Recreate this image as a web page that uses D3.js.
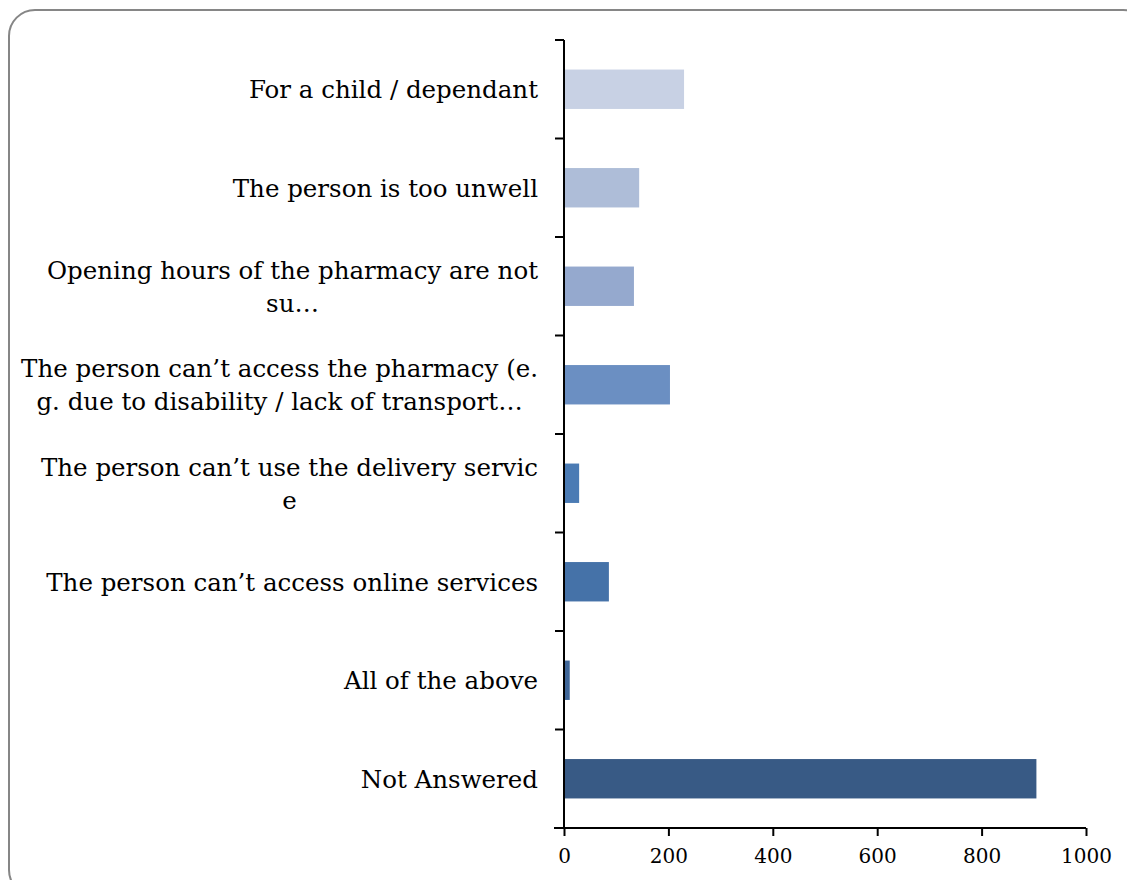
<!DOCTYPE html>
<html>
<head>
<meta charset="utf-8">
<script src="https://cdn.jsdelivr.net/npm/d3@7"></script>
<style>
  html, body { margin: 0; padding: 0; background: #ffffff; overflow: hidden; }
  svg { display: block; }
</style>
</head>
<body>
<svg id="chart" width="1127" height="880"></svg>
<script>
// Reasons a prescription is collected on someone else's behalf (counts of responses)
const categories = [
  ["For a child / dependant"],
  ["The person is too unwell"],
  ["Opening hours of the pharmacy are not", "su\u2026"],
  ["The person can\u2019t access the pharmacy (e.", "g. due to disability / lack of transport\u2026"],
  ["The person can\u2019t use the delivery servic", "e"],
  ["The person can\u2019t access online services"],
  ["All of the above"],
  ["Not Answered"]
];
const values = [230, 144, 134, 203, 29, 86, 11, 905];
const barColors = ["#c8d1e4", "#aebdd8", "#95a9ce", "#6b8fc2", "#4b7bb4", "#4572a8", "#3f6698", "#385a85"];
const xTicks = [0, 200, 400, 600, 800, 1000];

const FONT = "'DejaVu Serif', 'Liberation Serif', serif";
const svg = d3.select("#chart");

// Rounded outer frame
svg.append("rect")
  .attr("x", 9).attr("y", 10)
  .attr("width", 1140).attr("height", 886)
  .attr("rx", 26).attr("ry", 26)
  .attr("fill", "#ffffff")
  .attr("stroke", "#868686")
  .attr("stroke-width", 2);

const plot = { left: 564, right: 1086, top: 40, bottom: 828 };

const x = d3.scaleLinear().domain([0, 1000]).range([plot.left, plot.right]);
const y = d3.scaleBand()
  .domain(d3.range(categories.length))
  .range([plot.top, plot.bottom])
  .paddingInner(0.6)
  .paddingOuter(0.3);

// Bars
svg.append("g")
  .selectAll("rect")
  .data(values)
  .join("rect")
  .attr("x", x(0))
  .attr("y", (d, i) => y(i))
  .attr("width", d => x(d) - x(0))
  .attr("height", y.bandwidth())
  .attr("fill", (d, i) => barColors[i]);

// Category axis: ticks sit on the band boundaries
const step = (plot.bottom - plot.top) / categories.length;
const yAxis = svg.append("g");
yAxis.append("line")
  .attr("x1", plot.left).attr("x2", plot.left)
  .attr("y1", plot.top).attr("y2", plot.bottom)
  .attr("stroke", "#000").attr("stroke-width", 2);
yAxis.selectAll("line.tick")
  .data(d3.range(categories.length + 1))
  .join("line")
  .attr("class", "tick")
  .attr("x1", plot.left - 9).attr("x2", plot.left)
  .attr("y1", i => plot.top + i * step)
  .attr("y2", i => plot.top + i * step)
  .attr("stroke", "#000").attr("stroke-width", 2);

// Category labels: block right-aligned to the axis, lines centred within the block
const lineHeight = 33;
const labelRight = 538;
const labels = svg.append("g")
  .attr("font-family", FONT)
  .attr("font-size", 24.5)
  .attr("fill", "#000");

categories.forEach((lines, i) => {
  const cy = y(i) + y.bandwidth() / 2;
  const g = labels.append("text").attr("text-anchor", "middle");
  const tspans = lines.map((line, k) =>
    g.append("tspan")
      .attr("y", cy + (k - (lines.length - 1) / 2) * lineHeight)
      .attr("dy", "0.36em")
      .text(line)
  );
  const widest = d3.max(tspans, t => t.node().getComputedTextLength());
  tspans.forEach(t => t.attr("x", labelRight - widest / 2));
});

// Value axis
const xAxis = svg.append("g")
  .attr("transform", `translate(0,${plot.bottom})`)
  .call(d3.axisBottom(x).tickValues(xTicks).tickFormat(d3.format("d"))
    .tickSize(8).tickPadding(13).tickSizeOuter(0));
xAxis.select(".domain").attr("stroke", "#000").attr("stroke-width", 2)
  .attr("d", `M${plot.left - 10},0H${plot.right}`);
xAxis.selectAll(".tick line").attr("stroke", "#000").attr("stroke-width", 2);
xAxis.selectAll(".tick text")
  .attr("font-family", FONT)
  .attr("font-size", 20)
  .attr("fill", "#000");
</script>
</body>
</html>
